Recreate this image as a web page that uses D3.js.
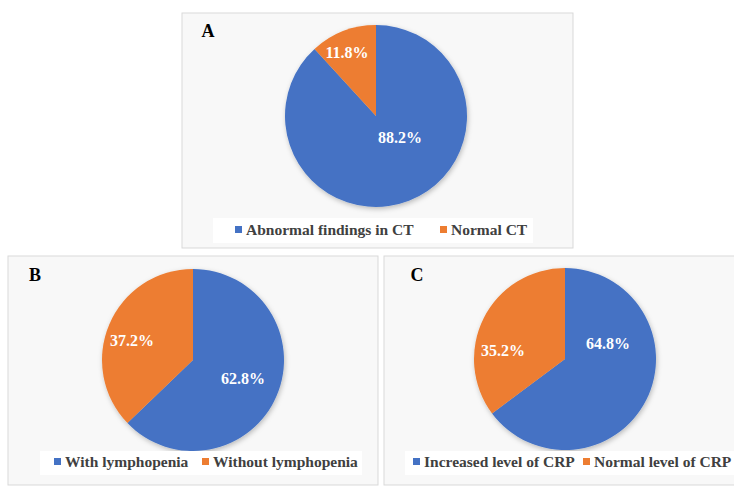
<!DOCTYPE html>
<html>
<head>
<meta charset="utf-8">
<script src="https://cdn.jsdelivr.net/npm/d3@7"></script>
<style>
  body { margin: 0; background: #fff; }
</style>
</head>
<body>
<svg id="fig" width="734" height="487"></svg>
<script>
// data (percent)
var ctCategories = ["Abnormal findings in CT", "Normal CT"];
var ctValues = [88.2, 11.8];
var lymphCategories = ["With lymphopenia", "Without lymphopenia"];
var lymphValues = [62.8, 37.2];
var crpCategories = ["Increased level of CRP", "Normal level of CRP"];
var crpValues = [64.8, 35.2];
var panelLetters = ["A", "B", "C"];

var colors = ["#4472C4", "#ED7D31"];
var FONT = "Liberation Serif";

// layout of each panel (boxes, pie centre, label nudges, legend)
var panels = [
  {cats: ctCategories, vals: ctValues, box: [182, 13, 391, 235], cx: 376, cy: 116, r: 91,
   letter: [208, 37], lab: [[24, 21], [-29, -64]], legBox: [213, 218, 320, 25], legY: 230, legX: [235, 440]},
  {cats: lymphCategories, vals: lymphValues, box: [8, 256, 370, 229], cx: 193, cy: 360, r: 91,
   letter: [35, 281], lab: [[50, 18], [-61, -20]], legBox: [40, 451, 322, 24], legY: 462, legX: [54, 202]},
  {cats: crpCategories, vals: crpValues, box: [384, 256, 360, 229], cx: 565, cy: 359, r: 91,
   letter: [417, 281], lab: [[43, -16], [-62, -9]], legBox: [405, 451, 329, 24], legY: 462, legX: [413, 583]}
];

var svg = d3.select("#fig");

var defs = svg.append("defs");
var f = defs.append("filter").attr("id", "shadow")
  .attr("x", "-20%").attr("y", "-20%").attr("width", "140%").attr("height", "140%");
f.append("feDropShadow").attr("dx", 1).attr("dy", 2).attr("stdDeviation", 2.5)
  .attr("flood-color", "#000").attr("flood-opacity", 0.25);

var pie = d3.pie().sort(null);

panels.forEach(function(p, i) {
  var g = svg.append("g");

  g.append("rect")
    .attr("x", p.box[0]).attr("y", p.box[1])
    .attr("width", p.box[2]).attr("height", p.box[3])
    .attr("fill", "#f8f8f8").attr("stroke", "#d9d9d9").attr("stroke-width", 1);

  g.append("text")
    .attr("x", p.letter[0]).attr("y", p.letter[1])
    .attr("text-anchor", "middle")
    .attr("font-family", FONT).attr("font-weight", "bold")
    .attr("font-size", 18).attr("fill", "#000")
    .text(panelLetters[i]);

  var arc = d3.arc().innerRadius(0).outerRadius(p.r);
  var arcs = pie(p.vals);

  var pg = g.append("g").attr("transform", "translate(" + p.cx + "," + p.cy + ")");
  pg.append("g").attr("filter", "url(#shadow)")
    .selectAll("path")
    .data(arcs)
    .enter().append("path")
    .attr("d", arc)
    .attr("fill", function(d, j) { return colors[j]; });

  pg.selectAll("text.val")
    .data(arcs)
    .enter().append("text")
    .attr("class", "val")
    .attr("x", function(d, j) { return p.lab[j][0]; })
    .attr("y", function(d, j) { return p.lab[j][1]; })
    .attr("dy", "0.35em")
    .attr("text-anchor", "middle")
    .attr("font-family", FONT).attr("font-weight", "bold")
    .attr("font-size", 16)
    .attr("fill", "#fff")
    .text(function(d) { return d.data.toFixed(1) + "%"; });

  // legend
  g.append("rect")
    .attr("x", p.legBox[0]).attr("y", p.legBox[1])
    .attr("width", p.legBox[2]).attr("height", p.legBox[3])
    .attr("fill", "#fff");

  var items = g.selectAll("g.leg")
    .data(p.cats)
    .enter().append("g")
    .attr("class", "leg")
    .attr("transform", function(d, j) { return "translate(" + p.legX[j] + "," + p.legY + ")"; });
  items.append("rect")
    .attr("x", 0).attr("y", -4)
    .attr("width", 7).attr("height", 7)
    .attr("fill", function(d, j) { return colors[j]; });
  items.append("text")
    .attr("x", 11).attr("y", 0)
    .attr("dy", "0.35em")
    .attr("font-family", FONT).attr("font-weight", "bold")
    .attr("font-size", 15.5)
    .attr("fill", "#404040")
    .text(function(d) { return d; });
});
</script>
</body>
</html>
